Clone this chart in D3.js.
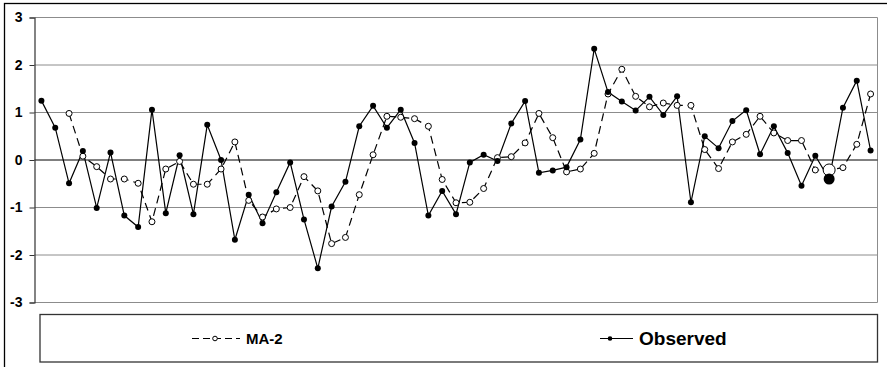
<!DOCTYPE html>
<html>
<head>
<meta charset="utf-8">
<script src="https://cdn.jsdelivr.net/npm/d3@7"></script>
<style>
  html, body { margin: 0; padding: 0; background: #fff; }
  svg { display: block; font-family: Arial, "Liberation Sans", sans-serif; }
</style>
</head>
<body>
<svg id="chart" width="887" height="367"></svg>
<script>
// Period index for each observation
const periods = d3.range(1, 62);

// Observed series
const observed = [1.25, 0.68, -0.49, 0.19, -1.01, 0.16, -1.17, -1.41, 1.06, -1.12,
  0.10, -1.14, 0.74, 0.00, -1.68, -0.73, -1.33, -0.68, -0.05, -1.25,
  -2.28, -0.98, -0.46, 0.71, 1.14, 0.68, 1.06, 0.36, -1.17, -0.65,
  -1.14, -0.05, 0.11, -0.02, 0.77, 1.24, -0.27, -0.22, -0.15, 0.43,
  2.34, 1.43, 1.23, 1.04, 1.33, 0.95, 1.34, -0.89, 0.50, 0.25,
  0.82, 1.05, 0.12, 0.71, 0.15, -0.54, 0.09, -0.40, 1.10, 1.67, 0.20];

// Two-period moving average (undefined for the first two periods)
const ma2 = [null, null, 0.98, 0.08, -0.14, -0.40, -0.40, -0.49, -1.30, -0.19,
  -0.03, -0.51, -0.51, -0.19, 0.38, -0.85, -1.20, -1.03, -1.00, -0.35,
  -0.65, -1.76, -1.63, -0.73, 0.11, 0.92, 0.90, 0.87, 0.71, -0.41,
  -0.90, -0.89, -0.60, 0.05, 0.07, 0.36, 0.98, 0.47, -0.25, -0.19,
  0.14, 1.39, 1.91, 1.34, 1.12, 1.20, 1.15, 1.15, 0.22, -0.18,
  0.38, 0.54, 0.92, 0.57, 0.41, 0.41, -0.21, -0.21, -0.16, 0.33, 1.39];

const yTicks = [-3, -2, -1, 0, 1, 2, 3];
const highlightIndex = 57;

const seriesNames = ["MA-2", "Observed"];

const svg = d3.select("#chart");

// outer chart frame
svg.append("rect")
  .attr("x", 4.5).attr("y", 3.5)
  .attr("width", 900).attr("height", 400)
  .attr("fill", "#fff").attr("stroke", "#000").attr("stroke-width", 1.3);

const plot = { left: 34.5, right: 877.5, top: 17.5, bottom: 302.5 };

const x = d3.scalePoint()
  .domain(periods)
  .range([plot.left, plot.right])
  .padding(0.5);

const y = d3.scaleLinear()
  .domain([-3, 3])
  .range([plot.bottom, plot.top]);

// gridlines
svg.append("g")
  .selectAll("line")
  .data(yTicks.filter(t => t !== 0))
  .join("line")
  .attr("x1", plot.left).attr("x2", plot.right)
  .attr("y1", d => y(d)).attr("y2", d => y(d))
  .attr("stroke", "#8c8c8c").attr("stroke-width", 1);

// plot frame (right side)
svg.append("line")
  .attr("x1", plot.right).attr("x2", plot.right)
  .attr("y1", plot.top).attr("y2", plot.bottom)
  .attr("stroke", "#8c8c8c").attr("stroke-width", 1);

// zero line
svg.append("line")
  .attr("x1", plot.left).attr("x2", plot.right)
  .attr("y1", y(0)).attr("y2", y(0))
  .attr("stroke", "#000").attr("stroke-width", 1);

// y axis
const yAxis = d3.axisLeft(y).tickValues(yTicks).tickSize(5).tickPadding(7)
  .tickFormat(d3.format("d"));
const gy = svg.append("g")
  .attr("transform", `translate(${plot.left},0)`)
  .call(yAxis);
gy.select(".domain").attr("stroke", "#333").attr("stroke-width", 1.2);
gy.selectAll(".tick line").attr("stroke", "#333");
gy.selectAll(".tick text")
  .attr("font-size", 14).attr("font-weight", "bold")
  .attr("fill", "#000")
  .attr("font-family", "Arial, 'Liberation Sans', sans-serif")
  .text(d => d < 0 ? "-" + Math.abs(d) : d);

// MA-2 dashed line
const maPts = ma2.map((v, i) => ({ p: periods[i], v })).filter(d => d.v !== null);
const line = d3.line().x(d => x(d.p)).y(d => y(d.v));

svg.append("path")
  .datum(maPts)
  .attr("d", line)
  .attr("fill", "none")
  .attr("stroke", "#000").attr("stroke-width", 1.2)
  .attr("stroke-dasharray", "8,5");

// Observed solid line
const obsPts = observed.map((v, i) => ({ p: periods[i], v }));
svg.append("path")
  .datum(obsPts)
  .attr("d", line)
  .attr("fill", "none")
  .attr("stroke", "#000").attr("stroke-width", 1.2);

// MA-2 markers (open)
svg.append("g")
  .selectAll("circle")
  .data(maPts)
  .join("circle")
  .attr("cx", d => x(d.p)).attr("cy", d => y(d.v))
  .attr("r", d => d.p === periods[highlightIndex] ? 6 : 3)
  .attr("fill", "#fff").attr("stroke", "#000").attr("stroke-width", 1);

// Observed markers (filled)
svg.append("g")
  .selectAll("circle")
  .data(obsPts)
  .join("circle")
  .attr("cx", d => x(d.p)).attr("cy", d => y(d.v))
  .attr("r", d => d.p === periods[highlightIndex] ? 5.5 : 3)
  .attr("fill", "#000");

// legend
const lg = svg.append("g");
lg.append("rect")
  .attr("x", 40).attr("y", 314.5)
  .attr("width", 837.5).attr("height", 47.5)
  .attr("fill", "#fff").attr("stroke", "#333").attr("stroke-width", 1.3);

const ly = 338.5;
// MA-2 entry
lg.append("line")
  .attr("x1", 192).attr("x2", 240).attr("y1", ly).attr("y2", ly)
  .attr("stroke", "#000").attr("stroke-width", 1.2).attr("stroke-dasharray", "7,4");
lg.append("circle")
  .attr("cx", 215).attr("cy", ly).attr("r", 2.3)
  .attr("fill", "#fff").attr("stroke", "#000").attr("stroke-width", 1);
lg.append("text")
  .attr("x", 246).attr("y", 343.5)
  .attr("font-size", 15).attr("font-weight", "bold")
  .text(seriesNames[0]);

// Observed entry
lg.append("line")
  .attr("x1", 600).attr("x2", 633).attr("y1", ly).attr("y2", ly)
  .attr("stroke", "#000").attr("stroke-width", 1.2);
lg.append("circle")
  .attr("cx", 610).attr("cy", ly).attr("r", 2.3)
  .attr("fill", "#000");
lg.append("text")
  .attr("x", 639).attr("y", 344.5)
  .attr("font-size", 19).attr("font-weight", "bold")
  .text(seriesNames[1]);
</script>
</body>
</html>
